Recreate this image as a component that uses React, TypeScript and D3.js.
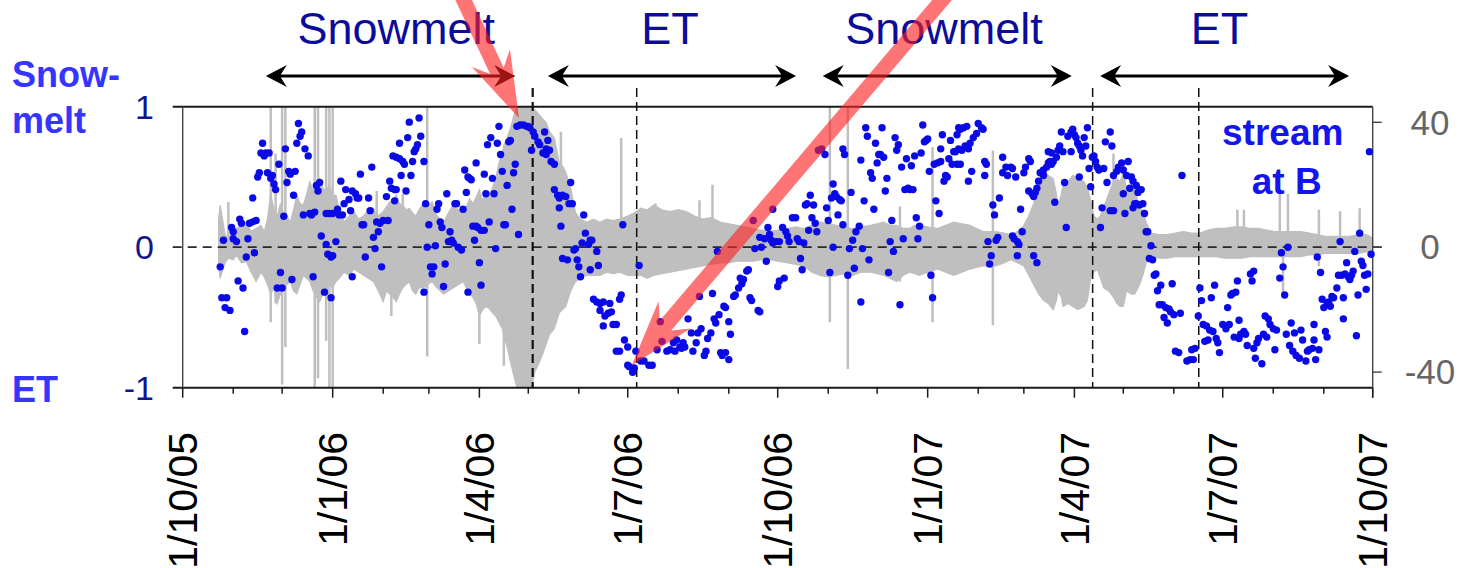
import React from "react";
import * as d3 from "d3";

// Record runs from 1 Oct 2005 to 1 Oct 2007; positions below are days since the start.
const seriesStart = Date.UTC(2005, 9, 1);
const seriesEnd = Date.UTC(2007, 9, 1);
const DAY_MS = 864e5;

// Daily snowmelt / ET index of the stream at B: [day, index]
const indexSamples: [number, number][] = [
  [23,-0.14],[24,-0.36],[27,-0.36],[26,-0.43],[29,-0.45],[25,0.05],[30,0.14],[31,0.11],[31,0.06],[33,0.04],
  [35,0.2],[36,0.17],[34,-0.24],[37,-0.29],[38,-0.6],[39,-0.07],[40,0.06],[41,0.17],[43,0.18],[45,0.19],
  [43,0.35],[44,-0.04],[46,0.5],[47,0.53],[48,0.67],[49,0.74],[50,0.65],[51,0.67],[53,0.67],[52,0.53],
  [55,0.51],[54,0.49],[56,0.45],[57,0.41],[58,-0.29],[61,-0.29],[60,-0.18],[59,0.59],[62,0.22],[63,0.7],
  [64,0.46],[65,0.54],[66,0.52],[69,0.54],[67,-0.23],[68,0.37],[70,0.74],[71,0.88],[72,0.79],[73,0.82],
  [74,0.23],[75,0.7],[77,0.65],[78,0.24],[79,0.23],[81,0.25],[80,-0.21],[82,0.44],[83,0.4],[84,0.46],
  [85,0.08],[87,-0.32],[88,0.24],[90,0.24],[92,0.24],[88,0.02],[89,-0.05],[91,-0.07],[92,-0.06],[91,-0.36],
  [94,0.04],[95,0.27],[96,0.23],[97,0.47],[98,0.23],[99,0.31],[100,0.41],[102,0.34],[103,0.26],[104,0.4],
  [106,0.38],[107,0.35],[104,-0.21],[108,0.35],[109,0.52],[110,0.16],[111,0.16],[112,-0.07],[114,0.35],[115,0.26],
  [116,0.57],[117,0.07],[118,-0.01],[119,0.18],[120,0.11],[121,0.17],[123,0.19],[126,0.19],[122,-0.14],[125,0.36],
  [127,0.47],[128,0.42],[130,0.41],[131,0.41],[129,0.65],[131,0.64],[133,0.63],[135,0.61],[136,0.59],[130,0.33],
  [133,0.74],[134,0.51],[137,0.4],[138,0.78],[139,0.89],[140,0.51],[141,0.61],[142,0.68],[143,0.7],[144,0.73],
  [145,0.92],[146,0.79],[148,0.61],[148,-0.32],[149,0.31],[150,0],[151,0.16],[152,-0.14],[153,-0.19],[154,-0.14],
  [155,0.01],[156,0.27],[157,0.31],[158,0.18],[159,0.14],[160,-0.28],[161,-0.12],[162,0.38],[163,0.04],[164,0.11],
  [165,0.05],[166,0.03],[167,0.31],[168,0.31],[169,0],[171,-0.02],[172,0.27],[173,0.55],[174,0.39],[175,0.5],
  [176,0.49],[177,0.48],[175,-0.32],[178,0.15],[180,0.15],[181,0.14],[183,0.12],[185,0.12],[179,0.05],[180,0.6],
  [182,-0.11],[183,-0.27],[185,0.52],[186,0.38],[187,0.73],[189,0.78],[188,0.18],[190,0.49],[191,0.38],[192,-0.01],
  [193,0.74],[194,0.86],[195,0.66],[196,0.54],[197,0.16],[198,0.16],[199,0.44],[200,0.75],[201,0.76],[202,0.27],
  [203,0.53],[204,0.59],[206,0.09],[205,0.86],[207,0.87],[209,0.87],[211,0.86],[212,0.86],[213,0.85],
  [214,0.69],[215,0.82],[216,0.79],[218,0.75],[219,0.73],[222,0.82],[224,0.76],[223,0.7],[221,0.67],[225,0.69],
  [223,0.66],[226,0.61],[228,0.59],[228,0.41],[230,0.37],[231,0.35],[233,0.37],[235,0.36],[237,0.31],[239,0.31],
  [231,0.28],[232,0.15],[238,0.46],[233,-0.08],[236,-0.09],[240,-0.02],[241,-0.01],[242,-0.09],[243,-0.14],[244,-0.21],
  [246,0.23],[245,0.03],[247,0.1],[249,0.02],[250,0.05],[251,0.05],[250,-0.16],[254,-0.03],[255,-0.13],[252,-0.37],
  [254,-0.39],[256,-0.4],[256,-0.45],[258,-0.39],[259,-0.49],[261,-0.47],[262,-0.4],[263,-0.46],[264,-0.55],[266,-0.55],
  [258,-0.56],[268,-0.37],[269,-0.34],[270,0.16],[266,-0.74],[268,-0.74],[271,-0.66],[273,-0.71],[273,-0.84],[274,-0.85],
  [276,-0.89],[277,-0.86],[278,-0.74],[280,-0.13],[281,-0.81],[283,-0.81],[286,-0.84],[288,-0.84],[291,-0.73],[293,-0.53],
  [294,-0.67],[297,-0.74],[299,-0.73],[301,-0.68],[302,-0.74],[303,-0.66],[305,-0.71],[306,-0.72],[307,-0.68],[308,-0.71],
  [310,-0.51],[312,-0.61],[313,-0.74],[315,-0.68],[316,-0.61],[318,-0.58],[320,-0.77],[321,-0.74],[317,-0.35],[322,-0.65],
  [324,-0.61],[326,-0.51],[327,-0.54],[329,-0.48],[325,-0.33],[328,-0.03],[330,-0.75],[331,-0.77],[333,-0.75],[335,-0.8],
  [332,-0.42],[333,-0.43],[335,-0.53],[336,-0.62],[338,-0.35],[339,-0.34],[341,-0.29],[342,-0.22],[343,-0.26],[344,-0.23],
  [346,-0.17],[347,-0.16],[348,-0.36],[349,-0.38],[350,0.19],[351,-0.01],[353,-0.45],[354,-0.46],[354,0.07],[355,0],
  [357,0.06],[358,-0.1],[359,0.14],[360,0.09],[361,0.05],[362,0.03],[362,0.27],[364,0.04],[366,0.04],[365,-0.28],
  [366,-0.24],[369,-0.22],[368,0.14],[370,0.11],[371,0.08],[372,0.04],[374,0.21],[376,0.21],[377,0.06],[378,0.04],
  [379,-0.08],[380,-0.16],[381,0.03],[382,0.3],[383,0.31],[385,0.37],[387,0.3],[384,0.12],[386,0.21],[388,0.17],
  [389,0.11],[390,0.69],[392,0.7],[394,0.66],[395,0.28],[396,0.19],[397,-0.18],[398,0.35],[399,0.45],[400,0.38],
  [401,0.36],[403,0.34],[404,0.33],[399,0],[402,0.23],[405,0.7],[406,0.66],[405,0.16],[408,-0.2],[409,-0.01],
  [410,0.39],[411,0.05],[412,-0.15],[413,0.11],[415,0.15],[416,-0.39],[416,0.62],[417,-0.01],[418,0.33],[419,0.85],
  [420,0.79],[422,0.53],[423,0.49],[421,-0.09],[424,0.27],[425,0.74],[426,0.6],[427,0.66],
  [429,0.85],[428,0.66],[430,0.64],[432,0.49],[431,0.4],[433,-0.18],[434,0.04],[435,0.19],[436,-0.03],[437,0.78],
  [438,0.69],[439,0.73],[440,-0.41],[441,0.57],[442,0.06],[443,0.41],[445,0.42],[446,0.41],[448,0.41],[444,0.63],
  [447,0.58],[449,0.65],[450,0.21],[451,0.06],[452,0.15],[453,0.67],[454,0.87],[455,0.75],[456,0.76],[457,0.77],
  [458,0.54],[459,-0.2],[460,-0.36],[461,0.59],[463,0.6],[465,0.61],[462,0.33],[464,0.24],[465,0.7],[466,0.8],
  [467,0.47],[468,0.51],[469,0.5],[470,0.63],[471,0.76],[472,0.59],[473,0.68],[474,0.68],[475,0.8],[476,0.85],
  [477,0.84],[479,0.85],[481,0.86],[475,0.59],[477,0.59],[476,0.7],[478,0.69],[480,0.72],[482,0.7],[483,0.74],
  [482,0.47],[484,0.54],[485,0.78],[487,0.81],[488,0.88],[490,0.85],[491,0.84],[492,0.61],[493,0.59],[492,0.51],
  [494,0.04],[495,-0.12],[496,-0.06],[497,0.3],[498,0.23],[499,0.05],[500,0.07],[501,0.35],[503,0.64],[503,0.53],
  [505,0.57],[506,0.51],[508,0.57],[509,0.56],[511,0.5],[509,0.08],[510,0.06],[512,0.04],[513,0.02],[512,-0.06],
  [514,0.27],[515,0.11],[516,0.53],[517,0.57],[519,0.63],[520,0.61],[519,0.4],[521,0.38],[522,0.36],[523,0.39],
  [524,0.42],[522,-0.06],[524,-0.11],[525,0.47],[526,0.53],[528,0.51],[528,0.55],[530,0.57],[531,0.6],[532,0.61],
  [533,0.59],[534,0.61],[531,0.68],[533,0.67],[535,0.32],[536,0.64],[537,0.69],[538,0.72],[539,0.82],[540,0.68],
  [541,0.46],[542,0.14],[543,0.79],[545,0.82],[546,0.84],[545,0.68],[547,0.8],[548,0.78],[549,0.74],[550,0.72],
  [551,0.69],[550,0.5],[552,0.65],[553,0.78],[554,0.72],[555,0.85],[556,0.56],[557,0.43],[558,0.64],[559,0.65],
  [560,0.61],[561,0.57],[562,0.55],[563,0.14],
  [566,0.75],[569,0.82],[570,0.72],[565,0.56],[567,0.46],[571,0.51],[573,0.54],[574,0.57],[576,0.6],[577,0.55],
  [579,0.51],[580,0.61],[564,0.28],[569,0.26],[571,0.26],[577,0.38],[578,0.24],[581,0.42],[582,0.5],[583,0.47],
  [584,0.31],[585,0.44],[586,0.39],[587,0.41],[588,0.41],[583,0.28],[585,0.31],[587,0.3],[589,0.31],[590,0.24],
  [591,0.11],[592,0.11],[594,0.01],[593,-0.08],[595,-0.09],[596,-0.2],[597,-0.19],[600,-0.27],[598,-0.31],[607,-0.26],
  [599,-0.41],[601,-0.41],[603,-0.43],[605,-0.44],[606,-0.46],[608,-0.48],[612,-0.47],[602,-0.5],[604,-0.54],[609,-0.74],
  [611,-0.75],[613,0.51],[616,-0.81],[618,-0.8],[620,-0.8],[619,-0.73],[621,-0.72],[623,-0.49],[624,-0.29],[625,-0.38],
  [626,-0.55],[628,-0.56],[630,-0.59],[632,-0.6],[627,-0.67],[629,-0.66],[631,-0.36],[634,-0.65],[635,-0.68],[633,-0.27],
  [636,-0.75],[638,-0.55],[640,-0.58],[642,-0.55],[641,-0.43],[643,-0.34],[644,-0.33],[646,-0.32],[647,-0.24],[645,-0.64],
  [648,-0.65],[649,-0.62],[648,-0.52],[651,-0.6],[652,-0.62],[653,-0.7],[655,-0.19],[656,-0.24],[657,-0.17],[657,-0.72],
  [659,-0.68],[660,-0.65],[658,-0.79],[662,-0.83],[663,-0.62],[664,-0.49],[666,-0.51],[667,-0.55],[665,-0.64],[669,-0.58],
  [670,-0.73],[671,-0.59],[673,-0.22],[674,-0.04],[675,-0.14],[676,-0.34],[678,0],[677,-0.62],[679,-0.7],[680,-0.54],
  [681,-0.74],[683,-0.77],[685,-0.79],[682,-0.61],[686,-0.59],[687,-0.66],[689,-0.81],[690,-0.74],[691,-0.73],[693,-0.72],
  [694,-0.55],[694,-0.66],[695,-0.8],[696,-0.07],[697,-0.73],[698,-0.18],[699,-0.37],[700,-0.43],[702,-0.4],[703,-0.39],
  [701,-0.6],[702,-0.64],[704,-0.42],[705,-0.35],[706,-0.36],[708,-0.29],[709,-0.2],[711,-0.2],[713,-0.19],[710,0.04],
  [712,-0.51],[712,-0.36],[714,-0.11],[715,-0.21],[716,-0.23],[717,-0.2],[718,-0.17],[719,-0.03],[720,-0.63],[721,-0.34],
  [722,0.1],[723,-0.1],[724,-0.13],[725,-0.2],[726,-0.3],[727,-0.19],[728,0.68],[729,-0.05],
];

// Envelope of the high-frequency stream signal (right axis): [day, upper, lower]
const signalBand: [number, number, number][] = [
  [22,9,-6],[23,13.5,-10],[26,4,-5],[28,3,-3.5],[31,5,-4],[33,6,-2.5],[36,7,-5],[39,8,-4.6],[42,5,-8],[45,6,-11],
  [48,7,-8],[50,5,-9.5],[52,9,-12],[54,17,-15],[56,12,-13],[58,10,-18],[60,14,-15],[62,8,-11],[64,10,-12],[66,8,-11],
  [68,12,-14],[70,16.7,-15],[72,14,-12],[74,13.5,-9],[76,17,-10],[78,21,-11],[80,18,-14],[82,20,-16],[84,22,-17.5],[86,19,-15],
  [88,18,-14],[90,20,-12],[92,16.7,-13],[94,16.7,-11],[96,12,-10],[99,8,-8],[102,10,-9],[105,11.4,-7],[108,9,-8],[111,10,-9],
  [114,12,-10],[117,12.5,-11],[120,10,-14],[123,11.4,-17.5],[125,13,-14],[127,14.5,-15],[129,15,-16],[131,16.7,-17.5],[133,14,-15],[135,13.5,-13],
  [137,12,-12],[139,12.5,-11],[141,11,-14],[143,10,-15],[145,12,-13],[148,14.5,-13],[150,13,-12],[153,14.5,-11],[156,10,-13],[160,8,-15],
  [163,11,-14],[166,13.5,-13],[169,12,-12],[172,11.4,-11],[174,13,-13],[176,15.5,-15],[178,14,-16],[180,16,-18],[182,18.5,-22],[184,15,-20],
  [186,17,-19],[188,16.7,-19.6],[190,19,-21],[192,22,-22],[194,27,-24],[196,30,-26],[197,32.7,-28],[199,35,-32],[201,38,-36.6],[203,42,-41],
  [205,45,-45],[214,45,-45],[216,44,-40],[219,42.3,-36.6],[221,41,-34],[223,40,-31],[225,37,-28],[228,35,-26],[231,27,-21],[233,26,-20],
  [235,24,-19],[238,19,-14],[241,11,-11],[244,9,-10],[248,8,-9],[252,9,-9],[256,8,-9],[260,9,-8],[264,8.5,-8.5],[268,9,-8],
  [273,10,-9],[277,11,-9],[281,12.5,-9],[285,12,-10],[289,13.5,-9],[294,12,-8.5],[299,11.4,-8],[304,12,-7.5],[309,11.4,-7],[314,10,-6.5],
  [319,9,-6],[324,9.5,-5.5],[330,8,-5],[335,7.5,-5],[340,7,-4.5],[345,6.5,-4.5],[350,6,-4.5],[355,5.5,-4],[360,5,-4],[365,5.5,-4.5],
  [371,6,-5],[376,6.5,-5.5],[381,6,-6],[386,7,-8],[391,8,-9],[396,7.5,-9.5],[401,7,-9],[406,6.5,-8.5],[411,6,-9],[416,6.5,-8],
  [422,7,-8],[426,7.5,-8.5],[430,8,-9],[434,7,-10],[438,7,-11],[442,6,-9],[446,6,-8],[449,7,-8.5],[452,7,-9],[457,6.5,-8],
  [463,6,-7],[468,7,-8],[473,8,-9],[478,7.5,-8],[483,7,-7],[487,6,-6.5],[491,5,-6],[495,5,-6],[499,5,-6],[504,4.5,-5],
  [508,4,-4],[512,5,-5],[516,7,-6],[519,10,-9],[522,14,-12],[525,19,-15],[528,25,-17],[531,23,-18],[534,22,-20],[536,17,-17],
  [537,13,-14],[539,17,-16],[540,20,-19],[543,21,-18],[546,23,-19],[549,22,-20],[553,21,-19],[555,19,-17],[557,15,-10],[559,10,-8],
  [561,9,-7],[563,10,-10],[565,13,-13],[568,17,-14],[571,21,-16],[573,22,-18],[575,21,-19],[577,24,-19],[579,19,-14],[582,18,-15],
  [584,19,-15],[587,12,-12],[589,12,-9],[591,8,-5],[594,4.5,-3],[599,4,-3.5],[604,4,-3.5],[609,4.5,-3],[614,5,-3],[619,4.5,-3],
  [624,4.5,-3],[629,5.5,-3],[634,6,-3],[639,6,-3.5],[645,6.5,-3.5],[650,6.5,-3.5],[655,6,-3],[660,6,-3],[665,5.5,-3],[670,5,-3],
  [675,5,-3],[680,5,-3],[686,5,-3],[691,4.5,-2.5],[696,4,-2.5],[701,3.5,-2],[706,3.5,-2],[711,3.5,-2],[716,3.5,-2],[721,4,-2],
  [726,4,-1.5],[730,3,-1.5],
];

// Isolated spikes of the stream signal: [day, upper, lower]
const signalSpikes: [number, number, number][] = [
  [28,14.5,-3],[54,45,-24],[57,30,-18],[61,45,-44],[63,45,-32],[81,45,-45],[83,45,-42],[88,45,-30],[90,45,-45],[92,45,-45],
  [119,18,-8],[128,10,-22],[135,17,-10],[150,45,-35],[182,15,-31],[197,30,-38],[232,37,-10],[269,35,-5],[290,14,-6],[317,15,-5],[325,20,-5],
  [397,45,-24],[408,45,-39],[440,13,-11],[460,32,-24],[497,31,-25],[571,30,-10],[647,12,-3],[651,12,-3],[673,17,-3],
  [675,5,-16],[678,17,-3],[697,12,-6],[710,11.5,-2],[722,12.5,-2],
];

const leftTickValues = [-1, 0, 1];
const rightTickValues = [-40, 0, 40];

// Seasonal periods shown above the plot
const periodNames = ["Snowmelt", "ET", "Snowmelt", "ET"];
const periodStartDays = [51, 224, 392.6, 562.8];
const periodEndDays = [204, 376.3, 545.4, 715.5];
const periodLabelDays = [131, 299, 467, 636];

// Transition dates marked by dashed verticals
const transitionDays = [214.7, 278.5, 558.2, 623.3];
const transitionWidths = [2.2, 1.5, 1.5, 1.5];

// Callout arrows: tip at the seasonal extreme, tail above the plot
const calloutTips: [number, number][] = [[206.3, 0.92], [275.5, -0.84]];
const calloutTails: [number, number][] = [[169.5, 1.83], [471, 1.83]];

const W = 1462;
const H = 568;
const plotLeft = 182.7;
const plotRight = 1372.7;
const plotTop = 106.7;
const plotBottom = 387.7;

const FONT = "'Liberation Sans', Arial, Helvetica, sans-serif";
const SIGNAL_GREY = "#bfbfbf";

const dayToDate = (d: number) => new Date(seriesStart + d * DAY_MS);

function stealthHead(tipX: number, tipY: number, dirX: number, dirY: number, len: number, half: number, notch: number) {
  // dir points from the tip back toward the tail
  const nx = -dirY;
  const ny = dirX;
  const p = (a: number, b: number) => `${tipX + a * dirX + b * nx},${tipY + a * dirY + b * ny}`;
  return `M${p(0, 0)}L${p(len, half)}L${p(notch, 0)}L${p(len, -half)}Z`;
}

function calloutPath(tx: number, ty: number, ex: number, ey: number) {
  const dx = ex - tx;
  const dy = ey - ty;
  const L = Math.hypot(dx, dy);
  const ux = dx / L;
  const uy = dy / L;
  const nx = -uy;
  const ny = ux;
  const shaft = 7.5;
  const headLen = 66;
  const headHalf = 21;
  const notch = 52;
  const p = (a: number, b: number) => `${tx + a * ux + b * nx},${ty + a * uy + b * ny}`;
  return [
    `M${p(0, 0)}`,
    `L${p(headLen, headHalf)}`,
    `L${p(notch, shaft)}`,
    `L${p(L, shaft)}`,
    `L${p(L, -shaft)}`,
    `L${p(notch, -shaft)}`,
    `L${p(headLen, -headHalf)}`,
    "Z",
  ].join("");
}

export default function App() {
  const x = d3.scaleUtc().domain([new Date(seriesStart), new Date(seriesEnd)]).range([plotLeft, plotRight]);
  const yL = d3.scaleLinear().domain([-1, 1]).range([plotBottom, plotTop]);
  const yR = d3.scaleLinear().domain([-45, 45]).range([plotBottom, plotTop]);

  const band = d3
    .area<[number, number, number]>()
    .x((d) => x(dayToDate(d[0])))
    .y0((d) => yR(d[2]))
    .y1((d) => yR(d[1]))
    .curve(d3.curveLinear);

  const monthTicks = d3.utcMonth.range(new Date(seriesStart), new Date(seriesEnd + 1));
  const quarterTicks = monthTicks.filter((d) => d.getUTCMonth() % 3 === 0);
  const fmt = d3.utcFormat("%-d/%-m/%y");

  const arrowY = 76;

  return (
    <svg width={W} height={H} style={{ position: "absolute", left: 0, top: 0, background: "#fff" }} fontFamily={FONT}>
      <defs>
        <clipPath id="plot-clip">
          <rect x={plotLeft} y={plotTop} width={plotRight - plotLeft} height={plotBottom - plotTop} />
        </clipPath>
      </defs>

      {/* stream signal */}
      <g clipPath="url(#plot-clip)">
        <path d={band(signalBand) ?? ""} fill={SIGNAL_GREY} stroke={SIGNAL_GREY} strokeWidth={1.2} />
        {signalSpikes.map((s, i) => (
          <line
            key={i}
            x1={x(dayToDate(s[0]))}
            x2={x(dayToDate(s[0]))}
            y1={yR(s[1])}
            y2={yR(s[2])}
            stroke={SIGNAL_GREY}
            strokeWidth={2.5}
          />
        ))}
      </g>

      {/* zero line spanning both axes */}
      <line x1={plotLeft - 10} x2={plotRight + 9} y1={yL(0)} y2={yL(0)} stroke="#2a2a2a" strokeWidth={1.8} strokeDasharray="9,6" />

      {/* frame */}
      <line x1={plotLeft - 10} x2={plotRight} y1={plotTop} y2={plotTop} stroke="#1a1a1a" strokeWidth={2} />
      <line x1={plotLeft - 10} x2={plotRight} y1={plotBottom} y2={plotBottom} stroke="#1a1a1a" strokeWidth={2} />
      <line x1={plotLeft} x2={plotLeft} y1={plotTop} y2={plotBottom} stroke="#444" strokeWidth={1.4} />
      <line x1={plotRight} x2={plotRight} y1={plotTop} y2={plotBottom + 10} stroke="#444" strokeWidth={1.4} />

      {/* x ticks */}
      {monthTicks.map((d, i) => {
        const major = d.getUTCMonth() % 3 === 0;
        return (
          <line key={i} x1={x(d)} x2={x(d)} y1={plotBottom} y2={plotBottom + (major ? 10 : 6)} stroke="#1a1a1a" strokeWidth={1.5} />
        );
      })}
      {quarterTicks.map((d, i) => (
        <text
          key={i}
          transform={`translate(${x(d)},432) rotate(-90)`}
          textAnchor="end"
          dy="0.35em"
          fontSize={41}
          fill="#000"
        >
          {fmt(d)}
        </text>
      ))}

      {/* left axis */}
      {leftTickValues.map((v) => (
        <text key={v} x={154} y={yL(v)} dy="0.35em" textAnchor="end" fontSize={34} fill="#14148c">
          {v}
        </text>
      ))}

      {/* right axis */}
      {rightTickValues.map((v) => (
        <g key={v}>
          <line x1={plotRight} x2={plotRight + 9} y1={yR(v)} y2={yR(v)} stroke="#444" strokeWidth={1.4} />
          <text x={1430} y={yR(v)} dy="0.35em" textAnchor="middle" fontSize={35} fill="#666">
            {v}
          </text>
        </g>
      ))}

      {/* transition markers */}
      {transitionDays.map((d, i) => (
        <line
          key={i}
          x1={x(dayToDate(d))}
          x2={x(dayToDate(d))}
          y1={88}
          y2={plotBottom}
          stroke="#111"
          strokeWidth={transitionWidths[i]}
          strokeDasharray="9,5"
        />
      ))}

      {/* index samples */}
      <g fill="#0a0ae6">
        {indexSamples.map((s, i) => (
          <circle key={i} cx={x(dayToDate(s[0]))} cy={yL(s[1])} r={3.7} />
        ))}
      </g>

      {/* season spans */}
      {periodNames.map((name, i) => {
        const x0 = x(dayToDate(periodStartDays[i]));
        const x1 = x(dayToDate(periodEndDays[i]));
        return (
          <g key={i}>
            <line x1={x0 + 10} x2={x1 - 10} y1={arrowY} y2={arrowY} stroke="#000" strokeWidth={3} />
            <path d={stealthHead(x0, arrowY, 1, 0, 21, 11, 14)} fill="#000" />
            <path d={stealthHead(x1, arrowY, -1, 0, 21, 11, 14)} fill="#000" />
            <text x={x(dayToDate(periodLabelDays[i]))} y={44} textAnchor="middle" fontSize={45} fill="#0c0c9a">
              {name}
            </text>
          </g>
        );
      })}

      {/* side labels */}
      <g fontWeight="bold" fontSize={36} fill="#3535ff">
        <text x={12} y={87}>Snow-</text>
        <text x={12} y={133}>melt</text>
        <text x={12} y={402}>ET</text>
      </g>
      <g fontWeight="bold" fontSize={37} fill="#1414ee" textAnchor="middle">
        <text x={plotRight - 90} y={145}>stream</text>
        <text x={plotRight - 86} y={194}>at B</text>
      </g>

      {/* callout arrows */}
      {calloutTips.map((t, i) => (
        <path
          key={i}
          d={calloutPath(x(dayToDate(t[0])), yL(t[1]), x(dayToDate(calloutTails[i][0])), yL(calloutTails[i][1]))}
          fill="rgba(255,30,30,0.62)"
        />
      ))}
    </svg>
  );
}
